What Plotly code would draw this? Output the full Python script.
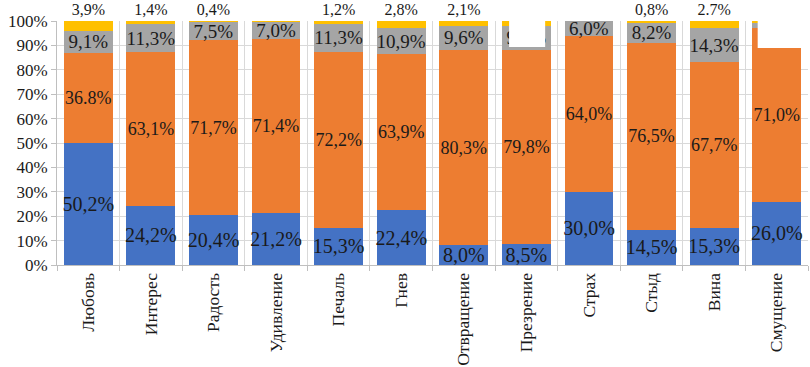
import plotly.graph_objects as go

categories = ["Любовь", "Интерес", "Радость", "Удивление", "Печаль", "Гнев",
              "Отвращение", "Презрение", "Страх", "Стыд", "Вина", "Смущение"]
blue_vals = [50.2, 24.2, 20.4, 21.2, 15.3, 22.4, 8.0, 8.5, 30.0, 14.5, 15.3, 26.0]
orange_vals = [36.8, 63.1, 71.7, 71.4, 72.2, 63.9, 80.3, 79.8, 64.0, 76.5, 67.7, 71.0]
grey_vals = [9.1, 11.3, 7.5, 7.0, 11.3, 10.9, 9.6, 9.5, 6.0, 8.2, 14.3, 2.5]
yellow_vals = [3.9, 1.4, 0.4, 0.4, 1.2, 2.8, 2.1, 2.2, 0.0, 0.8, 2.7, 0.5]
y_ticks = [0, 10, 20, 30, 40, 50, 60, 70, 80, 90, 100]
y_tick_labels = [f"{t}%" for t in y_ticks]

dot_labels = {("orange", 0), ("yellow", 10)}
hidden_labels = {("grey", 11), ("yellow", 11)}  # covered in the reference

def fmt(name, vals):
    out = []
    for i, v in enumerate(vals):
        if v == 0 or (name, i) in hidden_labels:
            out.append("")
            continue
        s = f"{v:.1f}%"
        if (name, i) not in dot_labels:
            s = s.replace(".", ",")
        out.append(s)
    return out

FONT = "Liberation Serif"
series = [
    ("blue", blue_vals, "#4472C4", 20, "inside"),
    ("orange", orange_vals, "#ED7D31", 18, "inside"),
    ("grey", grey_vals, "#A5A5A5", 19, "inside"),
    ("yellow", yellow_vals, "#FFC000", 16, "outside"),
]

fig = go.Figure()
for name, vals, color, fs, pos in series:
    fig.add_trace(go.Bar(
        x=categories, y=vals, name=name,
        marker=dict(color=color, line=dict(width=0)),
        text=fmt(name, vals), textposition=pos,
        insidetextanchor="middle", textangle=0, constraintext="none",
        textfont=dict(family=FONT, size=fs, color="#1a1a1a"),
        cliponaxis=False, showlegend=False,
    ))

# white occluding boxes present in the reference image
fig.add_shape(type="rect", xref="paper", yref="paper",
              x0=0.602, x1=0.650, y0=0.893, y1=1.09,
              fillcolor="white", line=dict(width=0), layer="above")
fig.add_shape(type="rect", xref="paper", yref="paper",
              x0=0.933, x1=1.01, y0=0.889, y1=1.09,
              fillcolor="white", line=dict(width=0), layer="above")

fig.update_layout(
    barmode="stack", bargap=0.22,
    width=810, height=367,
    margin=dict(l=57, r=2, t=21, b=102, autoexpand=False),
    plot_bgcolor="white", paper_bgcolor="white",
    font=dict(family=FONT, color="#1a1a1a"),
)
fig.update_yaxes(
    range=[0, 100], tickmode="array", tickvals=y_ticks, ticktext=y_tick_labels,
    showgrid=True, gridcolor="#d9d9d9", gridwidth=1,
    showline=True, linecolor="#bfbfbf",
    ticks="outside", ticklen=5, tickcolor="#bfbfbf",
    tickfont=dict(family=FONT, size=17, color="#1a1a1a"),
    zeroline=False, automargin=False,
)
fig.update_xaxes(
    tickangle=-90, tickson="boundaries",
    ticks="outside", ticklen=5, tickcolor="#bfbfbf",
    showgrid=True, gridcolor="#d9d9d9",
    showline=True, linecolor="#bfbfbf",
    tickfont=dict(family=FONT, size=17.5, color="#1a1a1a"),
    automargin=False,
)

fig.write_html("out.html",
               config={"displayModeBar": False},
               post_script="document.body.style.margin='0px';")
